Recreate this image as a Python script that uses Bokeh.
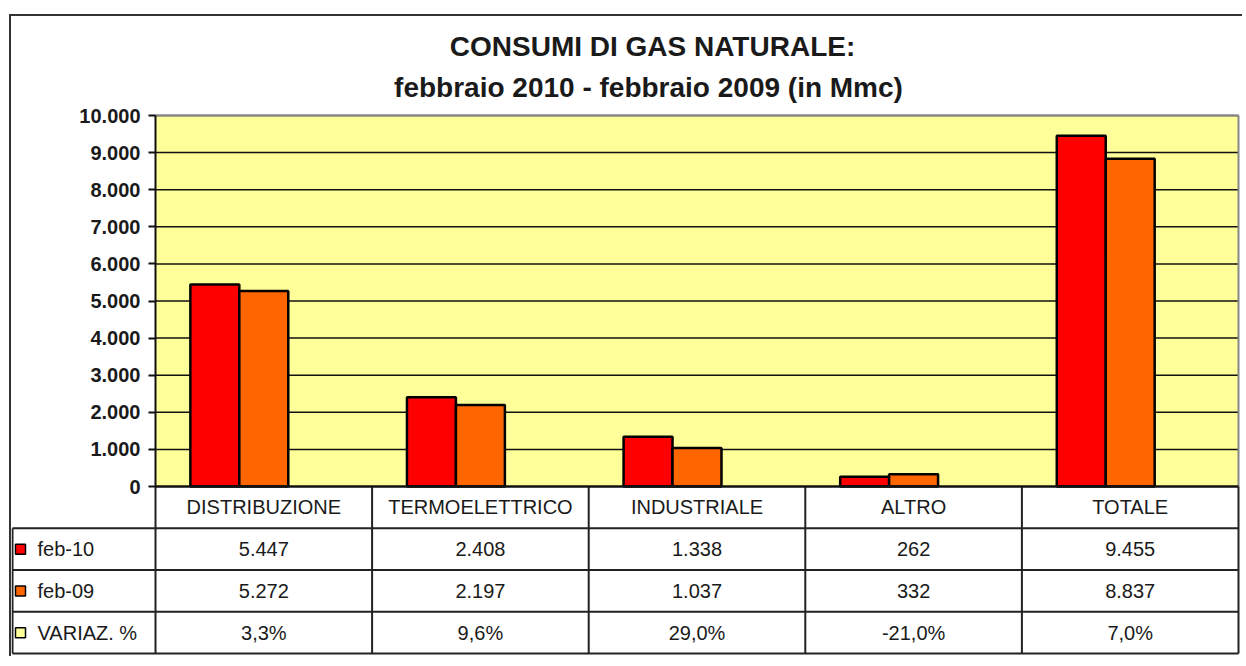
from bokeh.plotting import figure
from bokeh.models import Range1d, ColumnDataSource, FixedTicker
from bokeh.core.properties import value
from bokeh.embed import file_html
from bokeh.resources import INLINE

# ---------------- data ----------------
categories = ["DISTRIBUZIONE", "TERMOELETTRICO", "INDUSTRIALE", "ALTRO", "TOTALE"]
feb10 = [5447, 2408, 1338, 262, 9455]
feb09 = [5272, 2197, 1037, 332, 8837]
variaz = ["3,3%", "9,6%", "29,0%", "-21,0%", "7,0%"]
series_names = ["feb-10", "feb-09", "VARIAZ. %"]
series_colors = ["#FF0000", "#FF6600", "#FFFF99"]
y_ticks = [0, 1000, 2000, 3000, 4000, 5000, 6000, 7000, 8000, 9000, 10000]
y_tick_labels = ["0", "1.000", "2.000", "3.000", "4.000", "5.000", "6.000",
                 "7.000", "8.000", "9.000", "10.000"]
title_lines = ["CONSUMI DI GAS NATURALE:", "febbraio 2010 - febbraio 2009 (in Mmc)"]

FONT = "Liberation Sans"
INK = "#1a1a1a"
LC = "#222222"

def fmt(v):
    return f"{v:,}".replace(",", ".")

ncat = len(categories)
ymax = y_ticks[-1]

# ---------------- geometry (pixels) ----------------
W = 1233                 # canvas width
H = 642                  # canvas height
LEFT = 144               # pixels left of the category area (table label column)
PLOT_W = 1083            # width of the category area
COL = PLOT_W / ncat
TOP = 99                 # pixels above the 10.000 line (title area)
PLOT_H = 371             # height of the value axis 0..10000
TABLE_H = H - TOP - PLOT_H
ROW_H = 41.75

ppu = PLOT_H / ymax
p = figure(width=W, height=H,
           x_range=Range1d(-LEFT / COL, (W - LEFT) / COL),
           y_range=Range1d(-TABLE_H / ppu, ymax + TOP / ppu),
           output_backend="svg", toolbar_location=None,
           x_axis_location=None,
           min_border_left=0, min_border_right=0, min_border_top=0, min_border_bottom=0,
           margin=(14, 0, 0, 9),
           styles={"border-left": "2px solid #333333", "border-top": "2px solid #333333"})
# table rows (row 0 = header, starting at the zero line) and canvas pixels
p.extra_y_ranges = {"table": Range1d(TABLE_H / ROW_H, -(PLOT_H + TOP) / ROW_H),
                    "px": Range1d(H, 0)}
p.extra_x_ranges = {"px": Range1d(0, W)}

p.background_fill_color = "white"
p.border_fill_color = "white"
p.outline_line_color = None
p.xgrid.grid_line_color = None
p.ygrid.grid_line_color = None

# titles
p.text(x=[641, 637], y=[30, 71], text=title_lines, text_font=value(FONT),
       text_font_size="28px", text_font_style="bold", text_color=INK,
       text_align="center", text_baseline="middle", x_range_name="px", y_range_name="px")

# plot area background
p.quad(left=[0], right=[ncat], bottom=[0], top=[ymax], fill_color="#FFFF99", line_color=None)
# horizontal gridlines
gy = y_ticks[1:]
p.segment(x0=[0] * len(gy), x1=[ncat] * len(gy), y0=gy, y1=gy, line_color="#111111", line_width=1.5)
# plot-area border (top / right)
p.segment(x0=[0, ncat], x1=[ncat, ncat], y0=[ymax, 0], y1=[ymax, ymax], line_color="#888888", line_width=2)

ax = p.yaxis[0]
ax.fixed_location = 0
ax.bounds = (0, ymax)
ax.ticker = FixedTicker(ticks=y_ticks)
ax.major_label_overrides = {t: l for t, l in zip(y_ticks, y_tick_labels)}
ax.axis_line_color = "#111111"
ax.axis_line_width = 2
ax.major_tick_line_color = "#111111"
ax.major_tick_line_width = 2
ax.major_tick_in = 0
ax.major_tick_out = 7
ax.minor_tick_line_color = None
ax.major_label_text_font = FONT
ax.major_label_text_font_size = "20px"
ax.major_label_text_font_style = "bold"
ax.major_label_text_color = INK
ax.major_label_standoff = 8

# bars
bw = 0.226
xc = [i + 0.5 for i in range(ncat)]
src = ColumnDataSource(dict(x10=[x - bw for x in xc], x09=xc, feb10=feb10, feb09=feb09))
p.vbar(x="x10", top="feb10", width=bw, source=src,
       fill_color=series_colors[0], line_color="black", line_width=2.5)
p.vbar(x="x09", top="feb09", width=bw, source=src,
       fill_color=series_colors[1], line_color="black", line_width=2.5)

# ---------------- data table ----------------
x_left = -(LEFT - 1) / COL
nrows = 1 + len(series_names)
vx = list(range(ncat + 1))
p.segment(x0=vx, y0=[0] * len(vx), x1=vx, y1=[nrows] * len(vx),
          line_color=LC, line_width=2, y_range_name="table")
p.segment(x0=[x_left], y0=[1], x1=[x_left], y1=[nrows], line_color=LC, line_width=2,
          y_range_name="table")
p.segment(x0=[0], y0=[0], x1=[ncat], y1=[0], line_color="#111111", line_width=2.5,
          y_range_name="table")
hy = list(range(1, nrows + 1))
p.segment(x0=[x_left] * len(hy), y0=hy, x1=[ncat] * len(hy), y1=hy, line_color=LC,
          line_width=2, y_range_name="table")

TS = "20px"
p.text(x=xc, y=[0.5] * ncat, text=categories, text_font=value(FONT), text_font_size=TS,
       text_align="center", text_baseline="middle", text_color=INK, y_range_name="table")
rows = [[fmt(v) for v in feb10], [fmt(v) for v in feb09], variaz]
for r, vals in enumerate(rows):
    p.text(x=xc, y=[r + 1.5] * ncat, text=vals, text_font=value(FONT), text_font_size=TS,
           text_align="center", text_baseline="middle", text_color=INK, y_range_name="table")

ry = [r + 1.5 for r in range(len(series_names))]
p.scatter(x=[x_left + 8 / COL] * len(ry), y=ry, marker="square", size=10,
          fill_color=series_colors, line_color="black", line_width=1.5, y_range_name="table")
p.text(x=[x_left + 25 / COL] * len(ry), y=ry, text=series_names, text_font=value(FONT),
       text_font_size=TS, text_align="left", text_baseline="middle", text_color=INK,
       y_range_name="table")

open("out.html", "w").write(file_html(p, INLINE))
